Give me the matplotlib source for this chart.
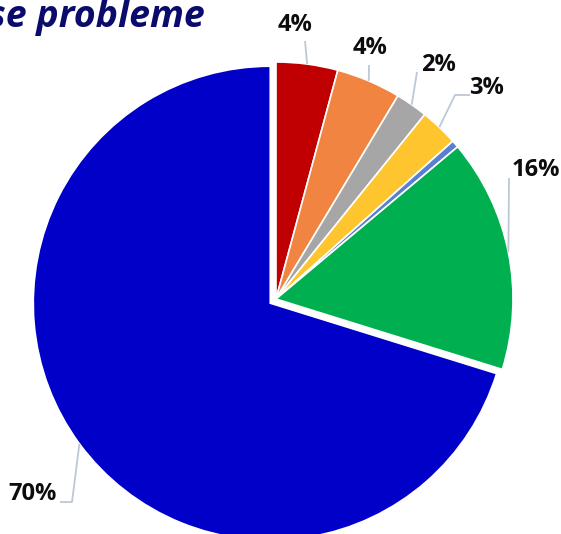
import numpy as np
import matplotlib
matplotlib.use("Agg")
import matplotlib.pyplot as plt

# data (percent shares, clockwise from 12 o'clock)
categories = ["rot", "orange", "grau", "gelb", "hellblau", "gruen", "blau"]
shares = [4.2, 4.4, 2.2, 2.6, 0.5, 15.9, 70.2]
labels = ["4%", "4%", "2%", "3%", "", "16%", "70%"]
colors = ["#C00000", "#F08440", "#A6A6A6", "#FFC52E", "#5B7FD0", "#00B050", "#0000C8"]
explode_frac = [0, 0, 0, 0, 0, 0, 0.03]

W, H = 561, 534
fig = plt.figure(figsize=(W / 100, H / 100), dpi=100)
ax = fig.add_axes([0, 0, 1, 1])

cx, cy, R = 276, H - 299, 237
wedges, _ = ax.pie(shares, colors=colors, startangle=90, counterclock=False,
                   center=(cx, cy), radius=R,
                   explode=[e * R for e in explode_frac], frame=True,
                   wedgeprops=dict(edgecolor="white", linewidth=1.2))
ax.set_xlim(0, W)
ax.set_ylim(0, H)
ax.axis("off")

# label text positions / leader elbows (image pixel coords, styling only)
text_pos = [(295, 25), (370, 48), (438, 65), (487, 88), None, (536, 170), (33, 494)]
elbows = [[(305, 41)], [(369, 65)], [(417, 72)], [(455, 95), (470, 95)], None,
          [(509, 178)], [(72, 502), (60, 502)]]

for w, lab, tp, el in zip(wedges, labels, text_pos, elbows):
    if not lab:
        continue
    mid = np.deg2rad((w.theta1 + w.theta2) / 2)
    ox, oy = w.center
    ax_, ay_ = ox + w.r * np.cos(mid), oy + w.r * np.sin(mid)
    xs = [ax_] + [p[0] for p in el]
    ys = [ay_] + [H - p[1] for p in el]
    ax.plot(xs, ys, color="#BCC8D8", lw=1.3, solid_capstyle="butt")
    ax.text(tp[0], H - tp[1], lab, ha="center", va="center", fontsize=17,
            fontweight="bold", family=["Open Sans", "DejaVu Sans"], color="#0D0D0D")

ax.text(205, H - 17, "se probleme", ha="right", va="center", fontsize=27,
        fontweight="bold", fontstyle="italic", color="#0B0B6E",
        family=["Open Sans", "DejaVu Sans"])

fig.savefig("out.png", dpi=100)
